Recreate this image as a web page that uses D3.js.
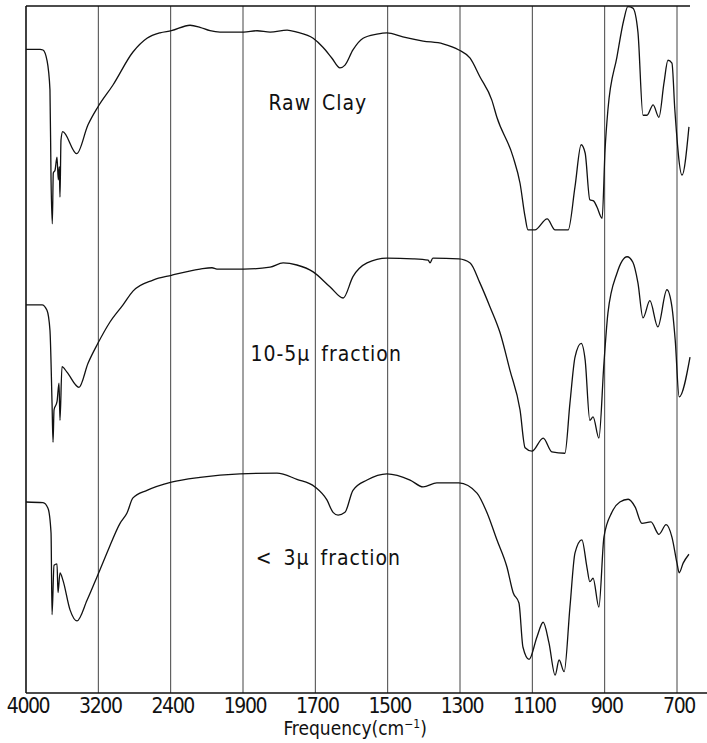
<!DOCTYPE html>
<html>
<head>
<meta charset="utf-8">
<script src="https://cdn.jsdelivr.net/npm/d3@7"></script>
<style>
  body { margin: 0; background: #fff; }
  svg text { font-family: "DejaVu Sans Condensed", "DejaVu Sans", sans-serif; fill: #111; }
</style>
</head>
<body>
<svg id="chart"></svg>
<script>
// wavenumber ticks (chart paper is not linear: each division is the same width)
const tickWavenumbers = [4000, 3200, 2400, 1900, 1700, 1500, 1300, 1100, 900, 700];

// [wavenumber cm-1, relative transmittance %]
const rawClay = [[4000,93.7],[3845,93.7],[3812,93.6],[3768,92.1],[3735,87.8],[3723,74.7],[3709,68.3],[3698,75.7],[3679,76.1],[3657,78.0],[3643,74.7],[3632,76.6],[3624,72.2],[3613,80.5],[3594,81.7],[3439,78.5],[3314,82.7],[3205,85.3],[3038,88.5],[2817,93.3],[2662,95.3],[2518,96.1],[2395,96.4],[2266,97.2],[2197,96.9],[2128,96.4],[2059,96.2],[1898,96.2],[1861,96.4],[1825,96.2],[1778,96.5],[1751,96.2],[1706,95.3],[1679,94.0],[1654,92.4],[1632,91.0],[1618,91.4],[1596,93.6],[1568,95.3],[1530,95.9],[1502,96.1],[1458,95.5],[1402,94.9],[1347,94.5],[1303,93.6],[1272,92.4],[1245,89.7],[1212,86.3],[1198,83.8],[1153,78.0],[1134,74.2],[1120,69.3],[1112,67.4],[1093,67.4],[1059,69.0],[1037,67.4],[1001,67.4],[982,73.7],[965,79.8],[954,78.6],[941,71.8],[930,71.6],[921,70.7],[907,69.1],[899,79.0],[891,84.9],[866,92.6],[847,98.0],[836,99.9],[822,99.7],[808,96.2],[794,84.1],[783,84.1],[766,85.6],[750,83.8],[736,88.8],[725,92.1],[714,91.7],[706,84.9],[686,75.4],[667,82.4]];

const fraction10to5 = [[4000,56.5],[3823,56.5],[3768,55.7],[3735,52.8],[3712,42.2],[3701,36.5],[3690,41.2],[3657,42.4],[3635,45.1],[3624,39.7],[3602,47.5],[3547,46.7],[3414,44.5],[3314,48.0],[3205,50.9],[3071,54.0],[2927,56.5],[2817,58.5],[2595,60.1],[2395,60.8],[2197,61.7],[2114,61.9],[2080,61.7],[1898,61.7],[1825,62.0],[1789,62.6],[1751,62.3],[1706,61.3],[1659,59.1],[1623,57.5],[1596,60.6],[1557,62.6],[1502,63.3],[1430,63.2],[1388,63.0],[1383,62.6],[1375,63.3],[1303,63.2],[1272,62.6],[1245,59.7],[1217,56.2],[1189,52.4],[1162,47.0],[1134,41.2],[1120,35.7],[1101,35.2],[1070,37.1],[1046,35.1],[1010,34.9],[996,42.2],[982,48.9],[965,50.9],[954,48.5],[941,39.7],[932,40.2],[916,37.1],[902,48.0],[891,55.3],[866,61.1],[838,63.5],[822,62.7],[808,59.7],[794,54.6],[775,57.1],[753,53.3],[728,58.7],[714,56.2],[705,51.4],[694,43.1],[664,48.9]];

const fractionBelow3 = [[4000,27.8],[3812,27.7],[3757,26.9],[3723,23.3],[3712,11.4],[3690,18.6],[3657,18.8],[3646,14.6],[3624,17.5],[3591,16.4],[3513,12.1],[3436,10.5],[3325,13.5],[3215,16.9],[3104,20.4],[2960,24.7],[2883,26.2],[2817,28.4],[2662,29.5],[2395,30.7],[2197,31.4],[1921,31.9],[1806,32.0],[1751,31.1],[1701,30.0],[1668,28.1],[1651,26.3],[1637,25.9],[1618,26.3],[1596,29.5],[1557,31.0],[1502,31.9],[1438,31.0],[1402,30.0],[1364,30.6],[1303,30.6],[1253,29.1],[1225,26.2],[1198,22.3],[1170,18.3],[1153,14.6],[1137,13.1],[1126,6.7],[1109,4.9],[1087,8.2],[1070,10.3],[1054,7.3],[1037,2.6],[1026,4.8],[1012,3.1],[996,12.5],[982,20.4],[963,22.3],[949,18.3],[941,16.2],[932,16.7],[916,12.5],[902,22.7],[880,26.3],[858,27.8],[835,28.2],[816,27.1],[797,24.7],[772,24.9],[750,23.1],[730,24.5],[714,22.7],[700,18.9],[694,17.5],[683,18.9],[667,20.2]];

const seriesNames = ["Raw Clay", "10-5μ fraction", "< 3μ fraction"];

const W = 707, H = 743;
const margin = { top: 6, right: 30, bottom: 50, left: 26 };
const innerW = W - margin.left - margin.right,
      innerH = H - margin.top - margin.bottom;

const svg = d3.select("#chart").attr("width", W).attr("height", H);
const g = svg.append("g").attr("transform", `translate(${margin.left},${margin.top})`);

// polylinear scale: equal spacing between labelled wavenumbers
const step = innerW / (tickWavenumbers.length - 1);
const x = d3.scaleLinear()
  .domain(tickWavenumbers)
  .range(tickWavenumbers.map((d, i) => i * step));
const y = d3.scaleLinear().domain([0, 100]).range([innerH, 0]);

// vertical grid lines
g.append("g")
  .selectAll("line")
  .data(tickWavenumbers.slice(1))
  .join("line")
  .attr("x1", d => x(d)).attr("x2", d => x(d))
  .attr("y1", 0).attr("y2", innerH)
  .attr("stroke", "#444")
  .attr("stroke-width", 1);

// frame: left, top and bottom
g.append("line").attr("x1", 0).attr("x2", 0).attr("y1", 0).attr("y2", innerH)
  .attr("stroke", "#111").attr("stroke-width", 1.6);
g.append("line").attr("x1", 0).attr("x2", x(664)).attr("y1", 0).attr("y2", 0)
  .attr("stroke", "#111").attr("stroke-width", 1.6);
g.append("line").attr("x1", 0).attr("x2", W - margin.left).attr("y1", innerH).attr("y2", innerH)
  .attr("stroke", "#111").attr("stroke-width", 1.6);

// tick labels
g.append("g")
  .selectAll("text")
  .data(tickWavenumbers)
  .join("text")
  .attr("x", d => x(d) + 2)
  .attr("y", innerH + 20)
  .attr("text-anchor", "middle")
  .style("font-size", "21px")
  .style("letter-spacing", "-1.4px")
  .text(d => d);

const axisTitle = g.append("text")
  .attr("x", x(1590))
  .attr("y", innerH + 42)
  .attr("text-anchor", "middle")
  .style("font-size", "19px")
  .style("letter-spacing", "0px");
axisTitle.append("tspan").text("Frequency(cm");
axisTitle.append("tspan").attr("dy", -7).style("font-size", "12px").text("−1");
axisTitle.append("tspan").attr("dy", 7).text(")");

// spectra
const line = d3.line()
  .x(d => x(d[0]))
  .y(d => y(d[1]))
  .curve(d3.curveMonotoneX);

g.append("g")
  .selectAll("path")
  .data([rawClay, fraction10to5, fractionBelow3])
  .join("path")
  .attr("d", line)
  .attr("fill", "none")
  .attr("stroke", "#111")
  .attr("stroke-width", 1.3)
  .attr("stroke-linejoin", "round");

// curve labels
const labelAt = [[1693, 84.9], [1670, 48.3], [1664, 18.6]];
g.append("g")
  .selectAll("text")
  .data(seriesNames)
  .join("text")
  .attr("x", (d, i) => x(labelAt[i][0]))
  .attr("y", (d, i) => y(labelAt[i][1]))
  .attr("text-anchor", "middle")
  .style("font-size", "21px")
  .style("letter-spacing", "1px")
  .style("word-spacing", "4px")
  .text(d => d);
</script>
</body>
</html>
